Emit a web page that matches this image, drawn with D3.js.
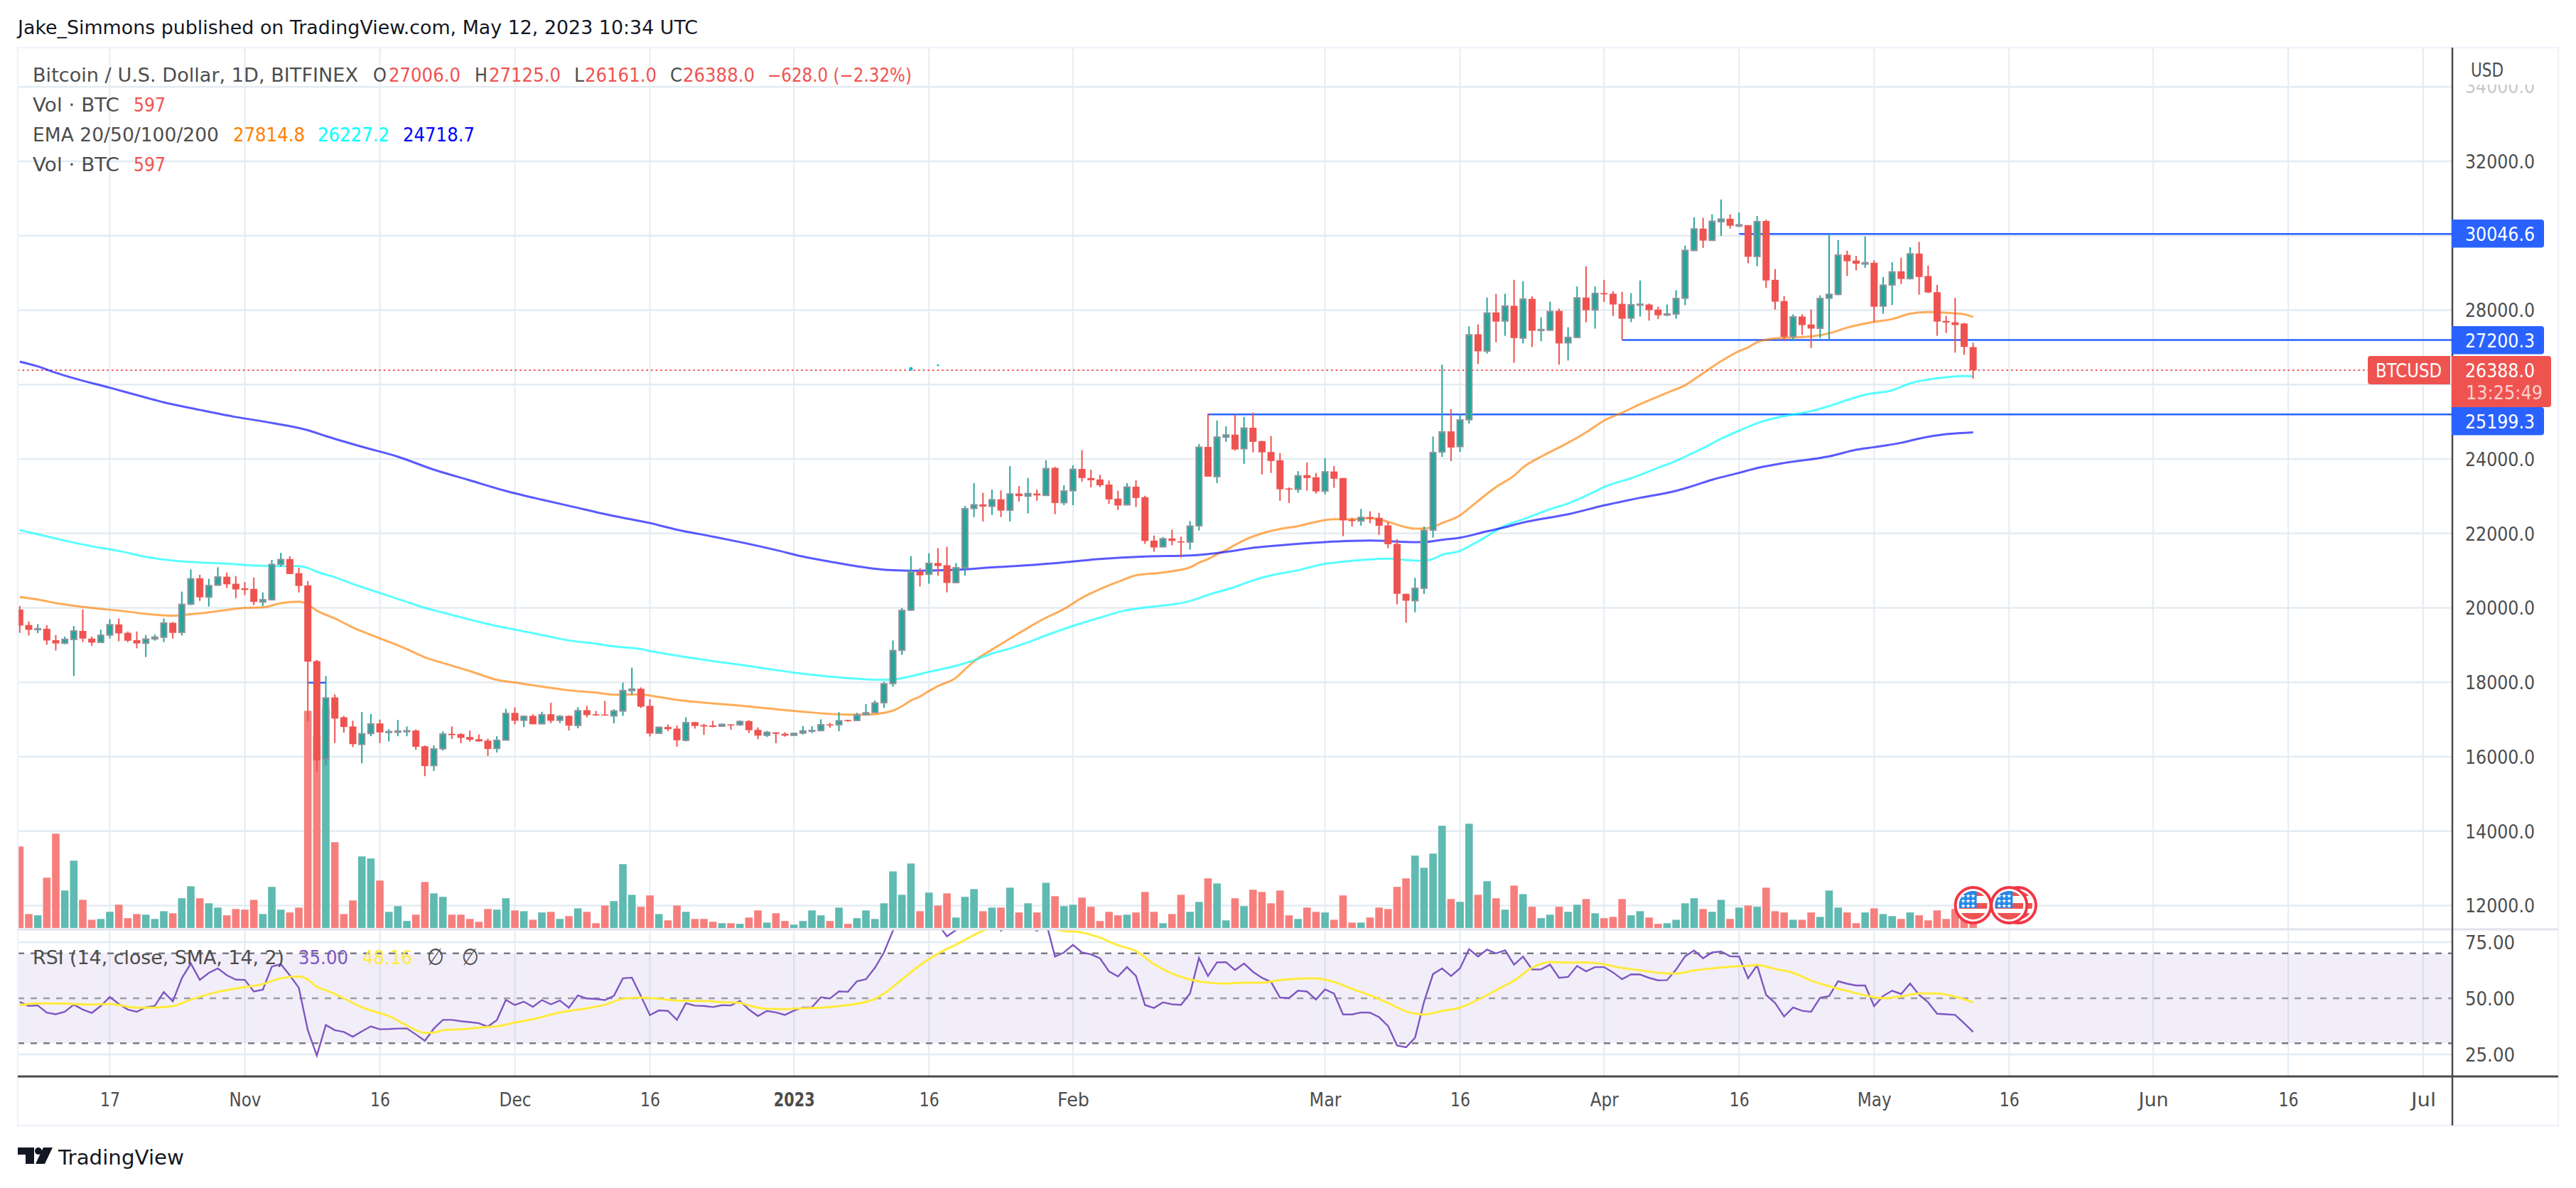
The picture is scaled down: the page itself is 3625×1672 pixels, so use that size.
<!DOCTYPE html>
<html>
<head>
<meta charset="utf-8">
<style>
	html, body { margin: 0; padding: 0; background: #fff; }
	svg { display: block; }
	text { font-family: "DejaVu Sans", sans-serif; }
</style>
</head>
<body>
<div id="chart"></div>
<script src="https://cdnjs.cloudflare.com/ajax/libs/d3/7.8.5/d3.min.js"></script>
<script>
// daily bars, first bar is 2022-10-07
const opens = [
	19956,19541,19417,19439,19133,19052,19154,19380,19176,19074,
	19271,19555,19329,19133,19052,19169,19213,19599,19344,20102,
	20795,20292,20612,20838,20649,20525,20510,20160,20219,21174,
	21312,20933,20605,18571,15932,17594,17062,16814,16333,16625,
	16895,16654,16661,16676,16705,16282,15765,16217,16618,16610,
	16530,16472,16435,16224,16450,17179,16982,17099,16887,17142,
	16982,17099,16843,17252,17142,17135,17099,17230,17777,17828,
	17368,16632,16800,16756,16442,16931,16851,16841,16822,16870,
	16861,16958,16724,16579,16656,16618,16579,16637,16686,16705,
	16870,16861,16987,16977,17133,17191,17453,17969,18863,19942,
	20972,20904,21205,21147,20680,21079,22673,22780,22731,22916,
	22624,23072,23004,23072,23023,23762,22829,23149,23732,23489,
	23451,23314,22935,22770,23256,22974,21808,21643,21866,21788,
	21769,22206,24325,23528,24588,24656,24277,24841,24481,24189,
	23966,23208,23188,23567,23509,23140,23665,23489,22372,22338,
	22440,22420,22216,21720,20379,20194,20527,22091,24190,24743,
	24335,25057,27352,26902,27939,27709,28117,27250,28304,27455,
	27463,27981,27123,27268,28338,28007,28458,28440,28169,27786,
	28135,28152,28015,27871,27897,28322,29605,30192,29877,30379,
	30455,30260,30285,29444,30396,28815,28245,27293,27829,27616,
	27514,28322,28424,29486,29333,29240,29274,28109,28678,29044,
	28848,29520,28916,28483,27710,27675,27640,27006
];
const highs = [
	20051,19636,19563,19533,19271,19227,19512,19956,19235,19417,
	19694,19716,19366,19366,19271,19286,19716,19621,20437,21035,
	20889,20780,21094,20948,20853,20693,20817,20416,21290,21480,
	21385,21079,20722,18600,18170,17675,17099,16968,17201,17150,
	16997,16741,16989,16814,16734,16304,16304,16683,16814,16632,
	16705,16603,16486,16552,17288,17332,17113,17142,17208,17449,
	17120,17113,17332,17368,17230,17500,17274,17995,18396,17864,
	17543,16807,16873,16843,17062,16938,16880,16967,16890,16870,
	16977,16987,16792,16695,16656,16656,16647,16822,16822,17006,
	16909,17201,16997,17181,17414,17512,18017,19125,20000,21390,
	21069,21468,21604,21643,21205,22741,23353,23091,23178,23159,
	23810,23276,23490,23178,23966,23791,23295,23830,24238,23713,
	23577,23421,23149,23353,23431,23013,21944,21905,22100,21915,
	22333,24403,25220,25035,24879,25200,25132,25249,24491,24617,
	24160,23237,23674,23907,23626,24024,23810,23489,22420,22660,
	22595,22556,22304,21847,20379,20807,22185,24607,26536,25338,
	25219,27565,27616,28338,28440,28440,28815,28780,28372,27811,
	28228,28041,27540,28636,29180,28636,28815,28509,28492,28458,
	28798,28177,28092,28152,28534,29733,30498,30481,30574,30974,
	30574,30625,30285,30532,30430,29104,28381,27888,27888,28016,
	28398,30055,29886,29597,29460,29979,29341,28891,29290,29410,
	29690,29835,29197,28678,27846,28330,27660,27125
];
const lows = [
	19329,19257,19322,19009,18856,19023,18170,19082,18979,19067,
	19176,19103,19082,18914,18681,19118,19082,19176,19257,20073,
	20190,20037,20598,20532,20263,20343,20073,20051,20204,21108,
	20911,20416,16953,15597,15772,16370,16647,16260,15823,16552,
	16370,16413,16552,16552,16187,15480,15619,16166,16479,16362,
	16406,16406,16020,16115,16442,16873,16800,16873,16880,16902,
	16909,16705,16763,17062,17099,17106,16895,17099,17667,17310,
	16545,16618,16690,16268,16413,16756,16588,16792,16812,16724,
	16831,16637,16472,16530,16365,16540,16559,16598,16637,16686,
	16783,16686,16938,16958,17113,17171,17317,17881,18736,19922,
	20573,20651,20865,20418,20671,20865,22440,22323,22498,22440,
	22323,22858,22537,22877,23013,22517,22760,22760,23392,23237,
	23246,22790,22634,22751,22712,21720,21507,21623,21682,21351,
	21565,22080,23528,23353,24462,24228,23869,24180,23587,23626,
	22877,22819,23091,23149,23072,23052,23227,21925,22187,22210,
	22275,21963,21604,20097,19601,19883,20374,21887,24055,23944,
	24190,24955,26553,26834,27140,27310,26587,27106,27012,27165,
	27446,26536,26647,27259,27676,27505,28220,27846,27200,27676,
	27829,27718,27761,27837,27769,28135,29588,29673,29869,29996,
	30192,30234,29257,29180,28594,28016,27166,27174,27336,26987,
	27250,27216,28398,28917,29070,29138,27684,27905,28135,28704,
	28823,28415,28458,27310,27387,26860,26800,26161
];
const closes = [
	19526,19410,19439,19125,19045,19154,19380,19176,19067,19264,
	19548,19315,19118,19045,19162,19213,19592,19329,20095,20780,
	20284,20598,20831,20634,20496,20481,20160,20219,21167,21298,
	20911,20591,18557,15903,17580,17026,16800,16340,16618,16880,
	16654,16676,16690,16698,16268,15750,16209,16610,16581,16508,
	16457,16413,16209,16442,17164,16967,17084,16873,17128,16967,
	17084,16836,17237,17120,17113,17106,17230,17777,17820,17346,
	16625,16792,16741,16442,16916,16829,16814,16802,16870,16841,
	16948,16715,16569,16656,16618,16569,16627,16695,16705,16861,
	16841,16967,16958,17123,17181,17444,17959,18853,19932,20962,
	20875,21196,21128,20671,21079,22663,22770,22722,22906,22615,
	23062,23004,23072,23023,23742,22819,23140,23723,23489,23431,
	23295,22916,22751,23246,22955,21798,21623,21857,21798,21759,
	22197,24316,23528,24588,24646,24257,24831,24462,24180,23946,
	23188,23178,23548,23489,23130,23655,23470,22352,22333,22431,
	22401,22206,21711,20379,20194,20525,22083,24174,24726,24310,
	25049,27336,26894,27922,27693,28109,27250,28296,27446,27480,
	27964,27106,27268,28330,27999,28449,28424,28152,27769,28143,
	28160,27999,27863,27897,28313,29605,30183,29869,30387,30447,
	30268,30294,29435,30379,28798,28228,27285,27820,27599,27505,
	28313,28424,29478,29316,29248,29274,28092,28670,29027,28840,
	29512,28891,28475,27693,27667,27599,27012,26388
];
const volumes = [
	2580,440,400,1590,2985,1185,2130,890,260,285,
	510,735,310,440,420,285,530,465,940,1320,
	940,780,645,400,600,580,890,440,1300,580,
	490,645,6875,6075,6950,2715,440,870,2265,2200,
	1500,510,690,220,420,1455,1095,985,420,420,
	285,195,600,580,940,555,530,260,490,510,
	285,375,620,510,150,710,850,2020,1050,670,
	1030,440,240,710,510,285,285,195,150,150,
	130,330,555,170,465,220,105,220,555,400,
	220,645,130,310,555,285,780,1790,1050,2040,
	530,1120,710,1095,330,985,1230,530,645,645,
	1275,490,780,490,1430,1005,690,735,960,670,
	220,510,400,420,490,1140,510,150,440,1050,
	510,825,1570,1410,240,940,690,1210,1140,780,
	1185,400,285,645,510,490,260,1030,170,170,
	330,645,600,1300,1570,2290,1905,2355,3235,915,
	825,3300,1050,1480,940,580,1340,1070,670,310,
	420,670,510,735,915,465,310,350,915,400,
	530,330,130,150,260,780,940,600,510,890,
	285,645,710,670,1275,530,490,260,260,490,
	350,1185,645,490,150,490,620,440,375,285,
	490,400,240,555,285,600,500,597
];
const rsi = [
	48.4,46.6,46.8,43.6,42.9,44.0,47.2,45.0,43.5,46.6,
	50.6,47.5,45.0,44.0,46.0,46.6,52.8,48.6,58.9,65.5,
	58.2,61.3,63.3,60.3,58.3,58.2,53.0,53.8,64.1,65.2,
	60.2,54.7,35.8,24.5,38.1,35.8,35.0,32.9,35.3,37.5,
	36.2,36.3,36.5,36.6,33.9,31.1,36.5,40.4,40.4,39.8,
	39.4,38.9,37.4,40.3,49.3,47.0,48.5,46.2,49.2,47.3,
	49.0,45.8,51.3,49.9,49.7,49.2,51.1,58.9,59.2,51.0,
	42.5,44.6,44.4,40.4,47.8,46.7,46.6,46.1,46.9,46.8,
	48.8,45.0,42.1,44.4,43.7,42.6,44.5,45.9,46.0,50.5,
	49.9,53.1,52.9,57.6,58.5,63.6,70.4,80.1,86.2,88.3,
	85.1,84.1,83.0,77.6,80.4,88.3,88.8,87.3,86.2,80.1,
	83.0,80.9,82.5,80.1,84.1,68.6,70.4,73.8,70.4,69.6,
	67.8,62.0,59.7,63.9,59.9,47.0,45.7,48.2,47.3,47.1,
	52.1,68.0,59.9,66.0,66.1,62.6,65.5,61.8,59.1,57.3,
	50.3,50.1,53.4,53.0,49.4,54.0,52.1,42.8,42.8,43.7,
	43.6,41.6,37.7,29.0,28.2,32.4,48.4,60.8,63.3,59.9,
	63.4,71.9,68.6,71.7,70.0,71.4,65.0,68.6,62.8,62.9,
	65.0,59.1,59.5,64.4,62.0,63.9,63.9,61.5,58.5,60.7,
	60.6,59.1,58.0,58.1,62.8,68.7,71.3,67.8,70.4,70.8,
	68.7,68.6,58.9,64.7,51.5,47.9,41.9,45.9,44.4,44.0,
	50.2,51.0,57.6,56.5,55.7,55.7,46.5,51.0,53.4,51.9,
	56.6,51.5,48.2,43.1,42.9,42.6,38.9,35.0
];
// [bar index, value]
const ema20 = [[0,20292],[2,20226],[4,20131],[8,20000],[11,19927],[14,19840],[17,19789],[18,19811],[20,19854],[22,19913],[25,20000],[27,20015],[29,20124],[31,20168],[32,20088],[33,19927],[35,19716],[37,19475],[40,19184],[43,18892],[45,18673],[47,18520],[50,18302],[53,18068],[55,17995],[58,17886],[61,17784],[64,17726],[66,17667],[69,17675],[70,17645],[73,17529],[77,17434],[80,17376],[84,17278],[87,17210],[90,17152],[92,17133],[94,17133],[96,17181],[97,17240],[98,17356],[99,17512],[100,17619],[101,17765],[102,17900],[104,18124],[105,18348],[106,18562],[108,18882],[110,19174],[112,19465],[114,19738],[116,19971],[118,20272],[120,20505],[122,20700],[124,20875],[127,20953],[130,21089],[131,21215],[132,21312],[133,21439],[134,21555],[135,21691],[136,21818],[138,22002],[140,22119],[142,22197],[144,22313],[146,22381],[148,22381],[150,22411],[151,22381],[152,22313],[154,22168],[155,22129],[156,22134],[157,22176],[158,22278],[160,22490],[161,22677],[162,22873],[164,23247],[166,23553],[167,23774],[169,24063],[172,24437],[174,24718],[176,25032],[178,25244],[180,25474],[183,25780],[185,25984],[187,26307],[189,26630],[191,26902],[192,26996],[193,27140],[195,27242],[199,27293],[201,27378],[203,27531],[206,27684],[208,27760],[210,27905],[212,27947],[214,27930],[216,27888],[217,27815]];
const ema50 = [[0,22092],[2,21976],[5,21808],[8,21655],[11,21531],[14,21371],[17,21269],[20,21218],[23,21188],[26,21137],[29,21123],[31,21123],[32,21072],[33,20970],[35,20824],[37,20642],[40,20401],[43,20160],[45,20000],[47,19876],[50,19687],[53,19512],[55,19417],[58,19271],[61,19125],[64,19038],[66,18965],[69,18892],[70,18841],[73,18717],[77,18571],[80,18474],[84,18328],[87,18231],[90,18153],[93,18095],[96,18066],[97,18076],[99,18163],[101,18280],[104,18445],[106,18591],[108,18775],[110,18911],[112,19076],[114,19261],[117,19514],[120,19738],[123,19942],[125,20010],[130,20185],[132,20350],[135,20564],[137,20739],[139,20875],[142,21011],[145,21186],[146,21215],[150,21303],[152,21322],[155,21273],[156,21267],[157,21317],[158,21428],[160,21530],[161,21657],[162,21785],[163,21929],[165,22210],[167,22380],[170,22652],[172,22805],[175,23128],[176,23247],[179,23485],[182,23765],[184,23953],[185,24063],[187,24293],[189,24548],[191,24760],[193,24964],[195,25100],[199,25287],[201,25423],[203,25585],[205,25729],[208,25848],[210,26035],[212,26137],[214,26197],[216,26230],[217,26227]];
const ema200 = [[0,26616],[2,26489],[4,26318],[6,26171],[10,25917],[14,25651],[16,25524],[20,25321],[24,25130],[28,24971],[32,24774],[34,24616],[38,24330],[42,24063],[46,23714],[50,23428],[54,23142],[58,22907],[61,22743],[66,22470],[70,22280],[73,22100],[77,21915],[80,21769],[84,21555],[87,21380],[90,21244],[93,21118],[95,21050],[97,21011],[100,21001],[104,21021],[108,21089],[112,21147],[116,21225],[120,21312],[125,21380],[130,21409],[134,21506],[137,21613],[140,21682],[145,21769],[150,21808],[155,21769],[156,21768],[158,21828],[160,21887],[163,22057],[165,22167],[167,22295],[172,22516],[176,22754],[180,22958],[184,23145],[185,23213],[188,23443],[191,23630],[193,23757],[196,23893],[200,24029],[201,24071],[204,24250],[206,24318],[209,24437],[211,24548],[214,24667],[217,24719]];
const rsiMa = [[0,47.0],[2,47.7],[5,47.6],[8,47.2],[10,47.5],[13,45.8],[15,45.9],[17,46.5],[19,49.4],[22,52.9],[25,55.0],[27,56.3],[29,58.9],[31,59.7],[32,58.4],[33,55.1],[34,53.6],[36,50.0],[38,46.0],[40,43.4],[41,42.1],[43,37.9],[45,34.6],[46,34.7],[47,35.8],[49,36.2],[52,37.3],[53,37.5],[55,39.2],[57,40.7],[60,43.7],[63,45.5],[65,47.1],[67,49.8],[69,50.3],[71,49.8],[73,49.0],[76,48.8],[78,48.3],[80,48.0],[81,46.8],[83,45.3],[85,45.2],[87,45.6],[89,45.8],[92,47.0],[94,48.4],[95,49.7],[96,52.1],[98,58.4],[100,64.7],[102,69.9],[104,73.9],[107,80.1],[110,84.1],[113,82.5],[116,80.0],[118,79.3],[120,77.0],[122,73.6],[124,71.0],[126,65.2],[128,61.0],[130,58.4],[132,57.0],[134,56.6],[136,57.0],[138,57.0],[140,58.1],[143,58.9],[144,58.9],[146,57.3],[148,54.2],[150,51.3],[152,47.9],[154,44.2],[156,42.8],[158,44.4],[160,45.8],[162,49.4],[164,53.6],[166,57.9],[168,63.6],[170,66.1],[172,65.9],[174,66.0],[176,65.1],[178,63.5],[180,62.5],[182,61.4],[184,61.0],[186,62.4],[188,63.3],[190,64.1],[192,64.5],[193,64.8],[195,63.1],[197,61.3],[199,57.9],[201,55.4],[203,53.3],[205,51.3],[207,50.0],[209,50.8],[211,52.1],[213,52.1],[215,50.7],[217,48.16]];

const priceGrid = [34000,32000,30000,28000,26000,24000,22000,20000,18000,16000,14000,12000];
const priceLabels = [32000,28000,24000,22000,20000,18000,16000,14000,12000];
const rsiLabels = [75,50,25];
const timeTicks = ['2022-10-17','2022-11-01','2022-11-16','2022-12-01','2022-12-16','2023-01-01','2023-01-16','2023-02-01','2023-03-01','2023-03-16','2023-04-01','2023-04-16','2023-05-01','2023-05-16','2023-06-01','2023-06-16','2023-07-01'];
const timeNames = ['17','Nov','16','Dec','16','2023','16','Feb','Mar','16','Apr','16','May','16','Jun','16','Jul'];
// drawn levels: [bar index where it starts, price]
const levels = [[132,25199.3],[178,27200.3],[191,30046.6]];
const eventDates = ['2023-05-17','2023-05-16','2023-05-12'];

const W = 3625, H = 1672;
const plotLeft = 25, plotTop = 67, axisX = 3451, plotRight = 3600, paneY = 1308, timeY = 1515, plotBottom = 1584;
const RED = '#ef5350', GREEN = '#26a69a', BLUE = '#2962ff', TXT = '#4d4d4d';
const FS = 26;
// the original face is narrower than DejaVu, so label widths are fitted
const timeLabelWidth = { '16': 28, '17': 28, Nov: 45, Dec: 45, '2023': 58, Feb: 45, Mar: 45, Apr: 40, May: 48, Jun: 42, Jul: 35 };

const parse = d3.utcParse('%Y-%m-%d');
const dayMs = 864e5;
const firstDay = parse('2022-10-07');
const barDate = i => new Date(+firstDay + i * dayMs);

const x = d3.scaleUtc().domain([parse('2022-10-17'), parse('2023-07-01')]).range([154.5, 3410]);
const y = d3.scaleLinear().domain([32000, 12000]).range([227, 1274.6]);
const yVol = d3.scaleLinear().domain([0, 6900]).range([1306, 999.3]);
const yRsi = d3.scaleLinear().domain([75, 25]).range([1326, 1484]);

const svg = d3.select('#chart').append('svg').attr('width', W).attr('height', H);
const defs = svg.append('defs');
defs.append('clipPath').attr('id', 'mainClip').append('rect')
	.attr('x', plotLeft).attr('y', plotTop).attr('width', axisX - plotLeft).attr('height', paneY - plotTop);
defs.append('clipPath').attr('id', 'rsiClip').append('rect')
	.attr('x', plotLeft).attr('y', paneY + 1).attr('width', axisX - plotLeft).attr('height', timeY - paneY - 1);
defs.append('clipPath').attr('id', 'topLabelClip').append('rect')
	.attr('x', axisX).attr('y', 119).attr('width', 140).attr('height', 30);

// grid
const gridG = svg.append('g');
gridG.selectAll('.v').data(timeTicks).join('line')
	.attr('class', 'v')
	.attr('x1', d => x(parse(d))).attr('x2', d => x(parse(d)))
	.attr('y1', plotTop).attr('y2', timeY)
	.attr('stroke', '#e4ecf3').attr('stroke-width', 2);
gridG.selectAll('.h').data(priceGrid).join('line')
	.attr('class', 'h')
	.attr('x1', plotLeft).attr('x2', axisX)
	.attr('y1', d => y(d)).attr('y2', d => y(d))
	.attr('stroke', '#e4ecf3').attr('stroke-width', 2.5);
gridG.selectAll('.r').data([75, 25]).join('line')
	.attr('class', 'r')
	.attr('x1', plotLeft).attr('x2', axisX)
	.attr('y1', d => yRsi(d)).attr('y2', d => yRsi(d))
	.attr('stroke', '#e4ecf3').attr('stroke-width', 2.5);

// main pane
const main = svg.append('g').attr('clip-path', 'url(#mainClip)');

main.selectAll('.vol').data(volumes).join('rect')
	.attr('class', 'vol')
	.attr('x', (d, i) => x(barDate(i)) - 5.3)
	.attr('width', 10.6)
	.attr('y', d => yVol(d))
	.attr('height', d => yVol(0) - yVol(d))
	.attr('fill', (d, i) => closes[i] >= opens[i] ? '#5fbab1' : '#f67f7d');

// price line
main.append('line')
	.attr('x1', plotLeft).attr('x2', 3332)
	.attr('y1', y(26388)).attr('y2', y(26388))
	.attr('stroke', RED).attr('stroke-width', 2).attr('stroke-dasharray', '2.5 4.1');

// drawn levels
main.selectAll('.level').data(levels).join('line')
	.attr('class', 'level')
	.attr('x1', d => x(barDate(d[0]))).attr('x2', axisX)
	.attr('y1', d => y(d[1])).attr('y2', d => y(d[1]))
	.attr('stroke', BLUE).attr('stroke-width', 2.5);
main.append('line')
	.attr('x1', x(barDate(32))).attr('x2', x(barDate(34)))
	.attr('y1', y(17990)).attr('y2', y(17990))
	.attr('stroke', BLUE).attr('stroke-width', 2.5);
main.selectAll('.dot').data([[99, 26425, 2.5], [102, 26521, 1.5]]).join('circle')
	.attr('class', 'dot')
	.attr('cx', d => x(barDate(d[0]))).attr('cy', d => y(d[1])).attr('r', d => d[2])
	.attr('fill', '#00bcd4');

// moving averages
const emaLine = d3.line().x(d => x(barDate(d[0]))).y(d => y(d[1])).curve(d3.curveMonotoneX);
[[ema20, '#ff8000'], [ema50, '#00ffff'], [ema200, '#0000ff']].forEach(([data, colour]) => {
	main.append('path').attr('d', emaLine(data))
		.attr('fill', 'none').attr('stroke', colour)
		.attr('stroke-width', 3).attr('stroke-opacity', 0.65);
});

// candles
const candles = main.selectAll('.candle').data(d3.range(opens.length)).join('g').attr('class', 'candle');
candles.append('line')
	.attr('x1', i => x(barDate(i))).attr('x2', i => x(barDate(i)))
	.attr('y1', i => y(highs[i])).attr('y2', i => y(lows[i]))
	.attr('stroke', i => closes[i] >= opens[i] ? GREEN : RED)
	.attr('stroke-width', 2);
candles.append('rect')
	.attr('x', i => x(barDate(i)) - (closes[i] >= opens[i] ? 4 : 5))
	.attr('width', i => closes[i] >= opens[i] ? 8 : 10)
	.attr('y', i => y(Math.max(opens[i], closes[i])))
	.attr('height', i => Math.max(1, y(Math.min(opens[i], closes[i])) - y(Math.max(opens[i], closes[i]))))
	.attr('fill', i => closes[i] >= opens[i] ? GREEN : RED)
	.attr('stroke', i => closes[i] >= opens[i] ? '#8f939b' : 'none')
	.attr('stroke-width', 2);

// rsi pane
const rsiG = svg.append('g').attr('clip-path', 'url(#rsiClip)');
rsiG.append('rect')
	.attr('x', plotLeft).attr('width', axisX - plotLeft)
	.attr('y', yRsi(70)).attr('height', yRsi(30) - yRsi(70))
	.attr('fill', '#7e57c2').attr('fill-opacity', 0.1);
rsiG.selectAll('.band').data([70, 50, 30]).join('line')
	.attr('class', 'band')
	.attr('x1', plotLeft).attr('x2', axisX)
	.attr('y1', d => yRsi(d)).attr('y2', d => yRsi(d))
	.attr('stroke', '#787b86').attr('stroke-width', 2.5)
	.attr('stroke-opacity', d => d === 50 ? 0.7 : 1)
	.attr('stroke-dasharray', '9 9');
rsiG.append('path')
	.attr('d', d3.line().x((d, i) => x(barDate(i))).y(d => yRsi(d))(rsi))
	.attr('fill', 'none').attr('stroke', '#7e57c2').attr('stroke-width', 2.4);
rsiG.append('path')
	.attr('d', d3.line().x(d => x(barDate(d[0]))).y(d => yRsi(d[1])).curve(d3.curveMonotoneX)(rsiMa))
	.attr('fill', 'none').attr('stroke', '#ffeb3b').attr('stroke-width', 3);

// frame and axis lines
const frame = svg.append('g').attr('fill', 'none');
frame.append('rect')
	.attr('x', plotLeft).attr('y', plotTop).attr('width', plotRight - plotLeft).attr('height', plotBottom - plotTop)
	.attr('stroke', '#f0f3fa').attr('stroke-width', 2.5);
frame.append('line').attr('x1', plotLeft).attr('x2', plotRight).attr('y1', paneY).attr('y2', paneY)
	.attr('stroke', '#e0e3eb').attr('stroke-width', 3);
frame.append('line').attr('x1', plotLeft).attr('x2', plotRight).attr('y1', timeY).attr('y2', timeY)
	.attr('stroke', '#4a4a4a').attr('stroke-width', 3);
frame.append('line').attr('x1', axisX).attr('x2', axisX).attr('y1', plotTop).attr('y2', plotBottom)
	.attr('stroke', '#4a4a4a').attr('stroke-width', 2.5);

// axes
function plainAxis(g) {
	g.select('.domain').remove();
	g.selectAll('.tick line').remove();
	g.selectAll('.tick text')
		.attr('fill', TXT)
		.attr('lengthAdjust', 'spacingAndGlyphs')
		.style('font-family', '"DejaVu Sans", sans-serif')
		.style('font-size', FS + 'px');
}
svg.append('g').attr('transform', `translate(${axisX},0)`)
	.call(d3.axisRight(y).tickValues(priceLabels).tickFormat(d3.format('.1f')).tickSize(0).tickPadding(18))
	.call(plainAxis)
	.selectAll('.tick text').attr('dy', '.36em').attr('textLength', 98);
svg.append('g').attr('transform', `translate(${axisX},0)`)
	.call(d3.axisRight(yRsi).tickValues(rsiLabels).tickFormat(d3.format('.2f')).tickSize(0).tickPadding(18))
	.call(plainAxis)
	.selectAll('.tick text').attr('dy', '.36em').attr('textLength', 70);
svg.append('g').attr('transform', `translate(0,${timeY})`)
	.call(d3.axisBottom(x).tickValues(timeTicks.map(parse)).tickFormat((d, i) => timeNames[i]).tickSize(0).tickPadding(24))
	.call(plainAxis)
	.selectAll('.tick text')
	.attr('textLength', (d, i) => timeLabelWidth[timeNames[i]])
	.style('font-weight', (d, i) => timeNames[i] === '2023' ? 'bold' : 'normal');

// all free text goes through here, w is the width in the reference
const label = (tx, ty, s, fill, w) => {
	const t = svg.append('text').attr('x', tx).attr('y', ty).attr('fill', fill)
		.style('font-size', FS + 'px').text(s);
	if (w) t.attr('textLength', w).attr('lengthAdjust', 'spacingAndGlyphs');
	return t;
};

// clipped top label + currency
label(3469, y(34000) + 9, '34000.0', '#c8c8c8', 98).attr('clip-path', 'url(#topLabelClip)');
label(3477, 108, 'USD', TXT, 46);

// price tags
const tag = (x0, y0, w, h, rl, rr, fill) => svg.append('path')
	.attr('d', `M${x0 + rl},${y0}H${x0 + w - rr}Q${x0 + w},${y0} ${x0 + w},${y0 + rr}V${y0 + h - rr}Q${x0 + w},${y0 + h} ${x0 + w - rr},${y0 + h}H${x0 + rl}Q${x0},${y0 + h} ${x0},${y0 + h - rl}V${y0 + rl}Q${x0},${y0} ${x0 + rl},${y0}Z`)
	.attr('fill', fill);

[[30046.6, 309], [27200.3, 459], [25199.3, 573]].forEach(([v, ty]) => {
	tag(axisX - 1, ty, 130, 39.5, 0, 4, BLUE);
	label(3469, ty + 29.5, d3.format('.1f')(v), '#fff', 98);
});
tag(axisX - 1, 501, 140, 72, 0, 4, RED);
label(3469, 530.5, '26388.0', '#fff', 98);
label(3470, 561.5, '13:25:49', '#fbd0cf', 108);
tag(3332, 501, 116, 40, 4, 0, RED);
label(3343, 530.5, 'BTCUSD', '#fff', 93);

// legend
label(25, 48, 'Jake_Simmons published on TradingView.com, May 12, 2023 10:34 UTC', '#131722', 957);
label(46, 115, 'Bitcoin / U.S. Dollar, 1D, BITFINEX', TXT, 458);
[[525, 'O', TXT, 19], [547, '27006.0', RED, 101], [668, 'H', TXT, 18], [688, '27125.0', RED, 101], [808, 'L', TXT, 14], [823, '26161.0', RED, 101], [943, 'C', TXT, 17], [961, '26388.0', RED, 101], [1080, '\u2212628.0 (\u22122.32%)', RED, 203]]
	.forEach(d => label(d[0], 115, d[1], d[2], d[3]));
[157, 241].forEach(ty => {
	label(46, ty, 'Vol \u00b7 BTC', TXT, 122);
	label(188, ty, '597', RED, 45);
});
label(46, 199, 'EMA 20/50/100/200', TXT, 262);
label(328, 199, '27814.8', '#ff8000', 101);
label(447, 199, '26227.2', '#00ffff', 101);
label(567, 199, '24718.7', '#0000ff', 101);
label(46, 1357, 'RSI (14, close, SMA, 14, 2)', TXT, 354);
label(420, 1357, '35.00', '#7e57c2', 70);
label(510, 1357, '48.16', '#ffeb3b', 70);
label(601, 1358, '\u2205', TXT, 24).style('font-size', '32px');
label(650, 1358, '\u2205', TXT, 24).style('font-size', '32px');

// event flags
eventDates.forEach(d => {
	const cx = x(parse(d)), cy = 1274;
	const g = svg.append('g').attr('transform', `translate(${cx},${cy})`);
	const id = 'flag' + d;
	defs.append('clipPath').attr('id', id).append('circle').attr('r', 20);
	g.append('circle').attr('r', 25).attr('fill', '#fff').attr('stroke', '#f23645').attr('stroke-width', 4);
	const inner = g.append('g').attr('clip-path', `url(#${id})`);
	inner.append('rect').attr('x', -20).attr('y', -20).attr('width', 40).attr('height', 40).attr('fill', '#fff');
	inner.selectAll('.stripe').data([[-20, 7], [-3, 8], [11, 9]]).join('rect')
		.attr('class', 'stripe')
		.attr('x', -20).attr('width', 40).attr('y', s => s[0]).attr('height', s => s[1]).attr('fill', RED);
	inner.append('rect').attr('x', -20).attr('y', -20).attr('width', 25).attr('height', 24).attr('fill', '#2186e8');
	[-14, -7, 0].forEach(sx => [-13, -6, 1].forEach(sy => {
		inner.append('path').attr('transform', `translate(${sx},${sy})`)
			.attr('d', d3.symbol(d3.symbolStar, 14)()).attr('fill', '#fff');
	}));
});

// footer logo
const logo = svg.append('g').attr('fill', '#131722');
logo.append('path').attr('d', 'M25,1615H48V1638H36V1625H25Z');
logo.append('circle').attr('cx', 54).attr('cy', 1620).attr('r', 5);
logo.append('path').attr('d', 'M61,1615H74L63,1638H50Z');
label(82, 1639, 'TradingView', '#131722', 177).style('font-size', '29px');
</script>
</body>
</html>
